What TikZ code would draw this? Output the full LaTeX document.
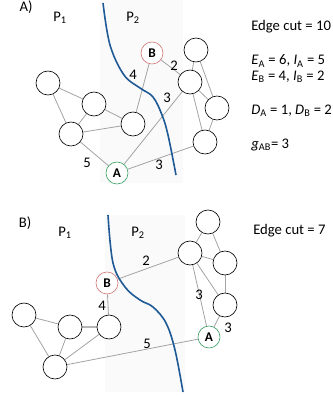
\documentclass[tikz,border=0pt]{standalone}
\usepackage{fontspec}
\setmainfont{Carlito}
\usetikzlibrary{positioning,backgrounds}
\definecolor{cutBlue}{HTML}{1F5A96}
\definecolor{nodeGreen}{HTML}{3FA36B}
\definecolor{nodeRed}{HTML}{D47C7C}
\definecolor{edgeGray}{HTML}{A3A3A3}
\definecolor{zoneGray}{HTML}{FAFAFA}

\begin{document}
\begin{tikzpicture}[x=0.75pt,y=-0.75pt,font=\fontsize{11}{13}\selectfont,
    vtx/.style={circle,draw,fill=white,line width=0.5pt,minimum size=18pt,inner sep=0pt},
    vtxA/.style={vtx,draw=nodeGreen,minimum size=16.5pt,font=\fontsize{10}{12}\selectfont\bfseries},
    vtxB/.style={vtx,draw=nodeRed,minimum size=16.5pt,font=\fontsize{10}{12}\selectfont\bfseries},
    edge/.style={draw=edgeGray,line width=0.6pt},
    cut/.style={draw=cutBlue,line width=1.2pt},
    info/.style={anchor=west,inner sep=0pt}]
    \useasboundingbox (0,0) rectangle (332,396);

    % ---- panel A ----
    \node (labA) at (26,7) {A)};
    \node (pa1) at (60,18) {P\textsubscript{1}};
    \node (pa2) at (133,18) {P\textsubscript{2}};
    \node[vtx] (a1) at (48,83) {};
    \node[vtx] (a2) at (94,104) {};
    \node[vtx] (a3) at (71,134) {};
    \node[vtx] (a4) at (133,124) {};
    \node[vtxA] (aA) at (117,173) {A};
    \node[vtxB] (aB) at (152,53) {B};
    \node[vtx] (ar1) at (196,50) {};
    \node[vtx] (ar2) at (190,82) {};
    \node[vtx] (ar3) at (217,108) {};
    \node[vtx] (ar4) at (205,142) {};
    \node (wa1) at (87,163) {5};
    \node (wa2) at (133,75) {4};
    \node (wa3) at (167,98) {3};
    \node (wa4) at (159,165) {3};
    \node (wa5) at (174,66) {2};
    \node[info] (cutA) at (251,27) {Edge cut = 10};
    \node[info] (ea) at (251,61) {\textit{E}\textsubscript{A} = 6, \textit{I}\textsubscript{A} = 5};
    \node[info] (eb) at (251,77) {\textit{E}\textsubscript{B} = 4, \textit{I}\textsubscript{B} = 2};
    \node[info] (dd) at (251,111) {\textit{D}\textsubscript{A} = 1, \textit{D}\textsubscript{B} = 2};
    \node[info] (gab) at (251,145) {\textit{g}\textsubscript{AB}= 3};

    % ---- panel B ----
    \node (labB) at (25,223) {B)};
    \node (pb1) at (65,233) {P\textsubscript{1}};
    \node (pb2) at (138,233) {P\textsubscript{2}};
    \node[vtx] (b1) at (24,315) {};
    \node[vtx] (b2) at (70,327) {};
    \node[vtx] (b3) at (55,367) {};
    \node[vtx] (b4) at (109,327) {};
    \node[vtxB] (bB) at (107,283) {B};
    \node[vtxA] (bA) at (209,337) {A};
    \node[vtx] (br1) at (208,222) {};
    \node[vtx] (br2) at (190,253) {};
    \node[vtx] (br3) at (225,263) {};
    \node[vtx] (br4) at (225,305) {};
    \node (wb1) at (146,261) {2};
    \node (wb2) at (102,306) {4};
    \node (wb3) at (147,344) {5};
    \node (wb4) at (199,295) {3};
    \node (wb5) at (228,328) {3};
    \node[info] (cutB) at (253,231) {Edge cut = 7};

    \begin{scope}[on background layer]
    % faint background of part P2
    \fill[zoneGray] (100,0) rectangle (183,183);
    \fill[zoneGray] (105,215) rectangle (185,392);
    \foreach \u/\v in {a1/a2,a1/a3,a2/a3,a2/a4,a3/a4,a3/aA,a4/aB,aB/ar2,
        aA/ar2,aA/ar4,ar1/ar2,ar1/ar3,ar2/ar3,ar2/ar4,ar3/ar4}
      {\path[edge] (\u) -- (\v);}
    \foreach \u/\v in {b1/b2,b1/b3,b2/b3,b3/b4,b3/bA,b4/bB,bB/br2,
        br1/br2,br1/br3,br2/br3,br2/br4,br2/bA,br3/br4,br4/bA}
      {\path[edge] (\u) -- (\v);}
    \path[edge,line width=1.5pt,draw=edgeGray!80] (b2) -- (b4);
    % cuts between P1 and P2
    \draw[cut] plot[smooth,tension=0.6] coordinates
      {(103,3) (110,45) (124,75) (140,88) (153,97) (162,115) (168,135) (176,175)};
    \draw[cut] plot[smooth,tension=0.6] coordinates
      {(108,215) (113,263) (125,287) (140,300) (153,307) (166,323) (175,350) (183,392)};
    \end{scope}
  \end{tikzpicture}
\end{document}
